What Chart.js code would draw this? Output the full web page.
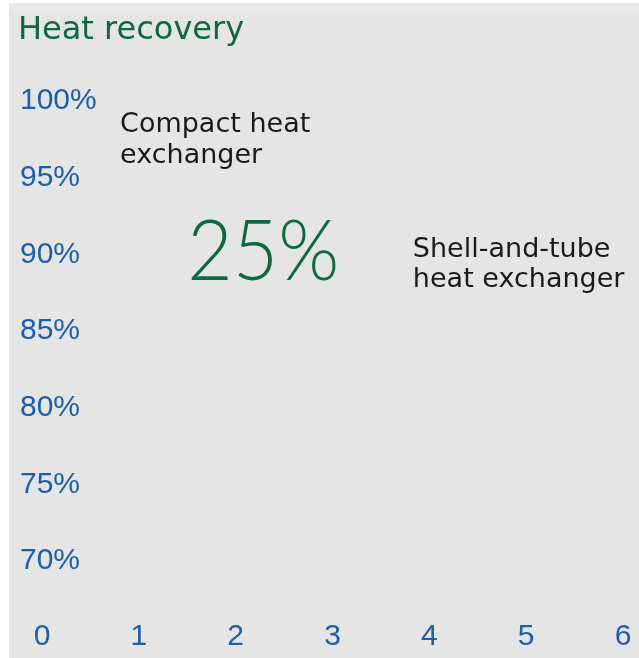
<!DOCTYPE html>
<html>
<head>
<meta charset="utf-8">
<script src="https://cdn.jsdelivr.net/npm/chart.js@4"></script>
<style>
  html, body { margin: 0; padding: 0; background: #ffffff; }
  #chartBox { width: 639px; height: 658px; }
</style>
</head>
<body>
<div id="chartBox"><canvas id="heatChart" width="639" height="658"></canvas></div>
<script>
// --- data ---
const chartTitle = 'Heat recovery';
const xTicks = [0, 1, 2, 3, 4, 5, 6];
const yTicks = [70, 75, 80, 85, 90, 95, 100];
const compactLabel = ['Compact heat', 'exchanger'];
const shellLabel = ['Shell-and-tube', 'heat exchanger'];
const savingLabel = '25%';
// the reference shows no plotted series, only the frame
const recoveryPoints = [];

// --- styling ---
const blue = '#1b5fa9';
const green = '#0c6a3e';
const textFont = '"DejaVu Sans", sans-serif';
const tickFont = '"Liberation Sans", Arial, sans-serif';

// where the text notes sit, in axis units
const notePos = {
    compact: { x: 0.806, y: 97.98, size: 27, lineGap: 31 },
    shell: { x: 3.83, y: 89.82, size: 27, lineGap: 30 },
    saving: { x: 1.5, y: 88.32, size: 85, width: 152 }
};

const backgroundPlugin = {
    id: 'panelBackground',
    beforeDraw(chart) {
        const ctx = chart.ctx;
        ctx.save();
        ctx.fillStyle = '#ffffff';
        ctx.fillRect(0, 0, chart.width, chart.height);
        ctx.fillStyle = '#e5e5e5';
        ctx.fillRect(9, 3, chart.width - 9, chart.height - 3);
        ctx.fillStyle = '#e8e8e8';
        ctx.fillRect(9, 3, chart.width - 9, 10);
        ctx.restore();
    }
};

const notesPlugin = {
    id: 'notes',
    afterDraw(chart) {
        const ctx = chart.ctx;
        const xs = chart.scales.x;
        const ys = chart.scales.y;
        ctx.save();
        ctx.textBaseline = 'alphabetic';
        ctx.textAlign = 'left';

        // title
        ctx.fillStyle = green;
        ctx.font = '32px ' + textFont;
        ctx.fillText(chartTitle, 18, 39);

        // text notes
        ctx.fillStyle = '#1a1a1a';
        [[compactLabel, notePos.compact], [shellLabel, notePos.shell]].forEach(([lines, p]) => {
            ctx.font = p.size + 'px ' + textFont;
            const px = xs.getPixelForValue(p.x);
            const py = ys.getPixelForValue(p.y);
            lines.forEach((line, i) => ctx.fillText(line, px, py + i * p.lineGap));
        });

        // big figure
        const s = notePos.saving;
        ctx.fillStyle = green;
        ctx.font = '300 ' + s.size + 'px Lato, ' + textFont;
        const sx = xs.getPixelForValue(s.x);
        const sy = ys.getPixelForValue(s.y);
        const w = ctx.measureText(savingLabel).width;
        ctx.translate(sx, sy);
        ctx.scale(s.width / w, 1);
        ctx.fillText(savingLabel, 0, 0);
        ctx.restore();
    }
};

new Chart(document.getElementById('heatChart'), {
    type: 'scatter',
    data: {
        datasets: [{
            data: recoveryPoints,
            showLine: true,
            borderColor: green,
            pointRadius: 0
        }]
    },
    options: {
        responsive: false,
        animation: false,
        layout: { padding: { left: 20, right: 16, top: 101, bottom: 0 } },
        plugins: {
            legend: { display: false },
            tooltip: { enabled: false },
            title: { display: false }
        },
        scales: {
            x: {
                type: 'linear',
                min: xTicks[0],
                max: xTicks[xTicks.length - 1],
                afterBuildTicks(scale) {
                    scale.ticks = xTicks.map(v => ({ value: v }));
                },
                afterFit(scale) { scale.height = 97; },
                // tick marks are hidden, their length only pushes the labels down
                grid: { display: false, drawTicks: true, tickLength: 58 },
                border: { display: false },
                ticks: {
                    color: blue,
                    padding: 0,
                    maxRotation: 0,
                    font: { family: tickFont, size: 30 }
                }
            },
            y: {
                type: 'linear',
                min: yTicks[0],
                max: yTicks[yTicks.length - 1],
                afterBuildTicks(scale) {
                    scale.ticks = yTicks.map(v => ({ value: v }));
                },
                afterFit(scale) { scale.width = 22; },
                grid: { display: false, drawTicks: false },
                border: { display: false },
                ticks: {
                    color: blue,
                    mirror: true,
                    padding: -22,
                    font: { family: tickFont, size: 30 },
                    callback: v => v + '%'
                }
            }
        }
    },
    plugins: [backgroundPlugin, notesPlugin]
});
</script>
</body>
</html>
